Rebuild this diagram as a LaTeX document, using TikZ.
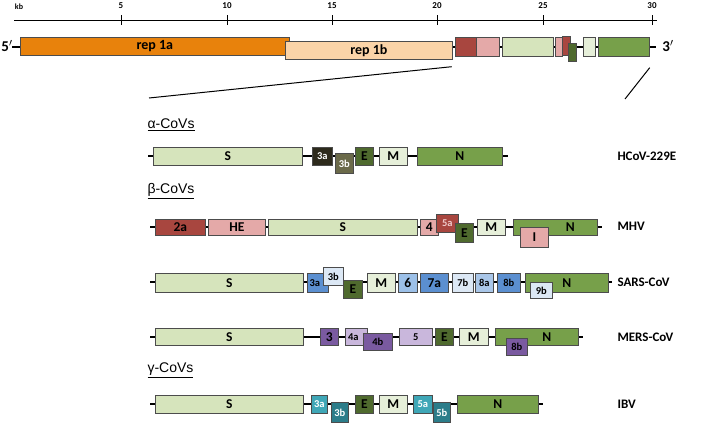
\documentclass[tikz,border=0pt]{standalone}
\usepackage{fontspec}
\setmainfont{Carlito}
\setsansfont{Liberation Sans}
\definecolor{lg}{HTML}{D6E4BC}
\definecolor{gr}{HTML}{77A04A}
\definecolor{dg}{HTML}{4F6A2E}
\definecolor{pk}{HTML}{E4A9A8}
\definecolor{dr}{HTML}{A8463F}
\definecolor{ml}{HTML}{E6EFD9}
\definecolor{orng}{HTML}{E8820C}
\definecolor{peach}{HTML}{FBD4A8}
\definecolor{blA}{HTML}{5B8FD0}
\definecolor{blB}{HTML}{9CC0E8}
\definecolor{blC}{HTML}{DCE8F5}
\definecolor{blD}{HTML}{A9C6E8}
\definecolor{puA}{HTML}{7A5AA0}
\definecolor{puB}{HTML}{C9B7DC}
\definecolor{tlA}{HTML}{3FA7B7}
\definecolor{tlB}{HTML}{2C7D8A}
\definecolor{blk}{HTML}{2D2A1C}
\definecolor{olv}{HTML}{6B6A4A}
\tikzset{gbox/.style={draw=black!70,line width=0.7pt,anchor=north west,inner sep=0pt,font=\bfseries\fontsize{13.5}{13.5}\selectfont},
sm/.style={font=\bfseries\fontsize{10.5}{10.5}\selectfont},
wt/.style={text=white},
bb/.style={line width=1.5pt},
vir/.style={anchor=west,font=\bfseries\fontsize{13}{13}\selectfont},
grp/.style={anchor=west,font=\sffamily\fontsize{14}{14}\selectfont}}
\newcommand\gb[7]{\node[gbox,minimum width={(#4-#2)*1pt},minimum height={(#5-#3)*1pt},#6] (#1) at (#2,#3) {#7};}
\begin{document}
\begin{tikzpicture}[x=1pt,y=-1pt]
\useasboundingbox (0,0) rectangle (707,432);
% ruler
\coordinate (r0) at (14,20); \coordinate (r1) at (657,20);
\draw[line width=1pt] (r0) -- (r1);
\node[font=\bfseries\fontsize{8}{8}\selectfont] (kb) at (19,7) {kb};
\foreach \x/\l in {121/5,227/10,332/15,437/20,543/25,652/30}{
 \draw[line width=1pt] (\x,15) -- (\x,25);
 \node[font=\bfseries\fontsize{9}{9}\selectfont] (t\l) at (\x,6) {\l};}
% genome
\coordinate (g0) at (12,47); \coordinate (g1) at (656,47);
\draw[bb] (g0) -- (g1);
\node[font=\bfseries\fontsize{15}{15}\selectfont] (p5) at (7,46) {5$'$};
\node[font=\bfseries\fontsize{15}{15}\selectfont] (p3) at (668,46) {3$'$};
\gb{ra}{20}{37}{289}{55}{fill=orng,font=\bfseries\fontsize{14}{14}\selectfont}{rep 1a}
\gb{rb}{285}{41}{452}{59}{fill=peach,font=\bfseries\fontsize{14}{14}\selectfont}{rep 1b}
\gb{g2}{455}{37}{476}{56}{fill=dr}{}
\gb{g3}{476}{37}{499}{56}{fill=pk}{}
\gb{g4}{502}{37}{553}{56}{fill=lg}{}
\gb{g5}{555}{37}{562}{56}{fill=pk}{}
\gb{g6}{562}{36}{570}{55}{fill=dr}{}
\gb{g7}{568}{43}{576}{61}{fill=dg}{}
\gb{g8}{583}{37}{595}{56}{fill=ml}{}
\gb{g9}{598}{37}{649}{56}{fill=gr}{}
\coordinate (z1) at (149,98); \coordinate (z2) at (625,99);
\draw[line width=1pt] (rb.south east) ++(-1,7) -- (z1);
\draw[line width=1pt] (g9.south east) ++(0,11) -- (z2);
% alpha
\node[grp] (ga) at (144,125) {\underline{α-CoVs}};
\coordinate (a0) at (148,156); \coordinate (a1) at (508,156);
\draw[bb] (a0) -- (a1);
\gb{aS}{153}{147}{302}{165}{fill=lg}{S}
\gb{a3a}{312}{147}{332}{165}{fill=blk,wt,sm}{3a}
\gb{a3b}{335}{153}{353}{173}{fill=olv,wt,sm}{3b}
\gb{aE}{355}{147}{373}{165}{fill=dg}{E}
\gb{aM}{379}{147}{407}{165}{fill=ml}{M}
\gb{aN}{417}{147}{502}{165}{fill=gr}{N}
\node[vir] (v1) at (614,156) {HCoV-229E};
% beta
\node[grp] (gbt) at (144,191) {\underline{β-CoVs}};
\coordinate (b0) at (150,227); \coordinate (b1) at (602,227);
\draw[bb] (b0) -- (b1);
\gb{b2a}{155}{219}{205}{235}{fill=dr}{2a}
\gb{bHE}{208}{219}{265}{235}{fill=pk}{HE}
\gb{bS}{268}{219}{417}{235}{fill=lg}{S}
\gb{b4}{420}{219}{438}{235}{fill=pk}{4}
\gb{b5a}{436}{214}{458}{232}{fill=dr,sm,text=pk!60}{5a}
\gb{bE}{455}{223}{473}{242}{fill=dg}{E}
\gb{bM}{477}{219}{505}{235}{fill=ml}{M}
\gb{bN}{513}{219}{597}{235}{fill=gr}{\hspace*{30pt}N}
\gb{bI}{520}{227}{548}{247}{fill=pk}{I}
\node[vir] (v2) at (614,226) {MHV};
% SARS
\coordinate (s0) at (150,282); \coordinate (s1) at (612,282);
\draw[bb] (s0) -- (s1);
\gb{sS}{155}{273}{303}{292}{fill=lg}{S}
\gb{s3a}{307}{273}{328}{292}{fill=blA,sm}{3a\hspace*{6pt}}
\gb{s3b}{323}{267}{343}{285}{fill=blC,sm}{3b}
\gb{sE}{343}{280}{362}{298}{fill=dg}{E}
\gb{sM}{367}{273}{395}{292}{fill=ml}{M}
\gb{s6}{398}{273}{417}{292}{fill=blB}{6}
\gb{s7a}{420}{273}{448}{292}{fill=blA}{7a}
\gb{s7b}{452}{273}{473}{292}{fill=blC,sm}{7b}
\gb{s8a}{475}{273}{493}{292}{fill=blD,sm}{8a}
\gb{s8b}{497}{273}{520}{292}{fill=blA,sm}{8b}
\gb{sN}{525}{273}{608}{292}{fill=gr}{N}
\gb{s9b}{530}{282}{552}{298}{fill=blC,sm}{9b}
\node[vir] (v3) at (614,282) {SARS-CoV};
% MERS
\coordinate (m0) at (150,337); \coordinate (m1) at (583,337);
\draw[bb] (m0) -- (m1);
\gb{mS}{155}{328}{303}{345}{fill=lg}{S}
\gb{m3}{320}{328}{338}{345}{fill=puA}{3}
\gb{m4a}{345}{328}{367}{345}{fill=puB,sm}{4a\hspace*{6pt}}
\gb{m4b}{363}{333}{392}{350}{fill=puA,sm}{4b}
\gb{m5}{399}{328}{432}{345}{fill=puB,sm}{5}
\gb{mE}{435}{328}{453}{345}{fill=dg}{E}
\gb{mM}{459}{328}{488}{345}{fill=ml}{M}
\gb{mN}{495}{328}{578}{345}{fill=gr}{\hspace*{20pt}N}
\gb{m8b}{506}{338}{527}{355}{fill=puA,sm}{8b}
\node[vir] (v4) at (614,337) {MERS-CoV};
% gamma
\node[grp] (gg) at (144,370) {\underline{γ-CoVs}};
\coordinate (i0) at (150,404); \coordinate (i1) at (543,404);
\draw[bb] (i0) -- (i1);
\gb{iS}{155}{395}{303}{413}{fill=lg}{S}
\gb{i3a}{311}{395}{327}{413}{fill=tlA,wt,sm}{3a}
\gb{i3b}{331}{402}{348}{422}{fill=tlB,wt,sm}{3b}
\gb{iE}{355}{395}{373}{413}{fill=dg}{E}
\gb{iM}{379}{395}{407}{413}{fill=ml}{M}
\gb{i5a}{413}{395}{432}{413}{fill=tlA,wt,sm}{5a}
\gb{i5b}{433}{402}{450}{422}{fill=tlB,wt,sm}{5b}
\gb{iN}{457}{395}{538}{413}{fill=gr}{N}
\node[vir] (v5) at (614,404) {IBV};
\end{tikzpicture}
\end{document}
